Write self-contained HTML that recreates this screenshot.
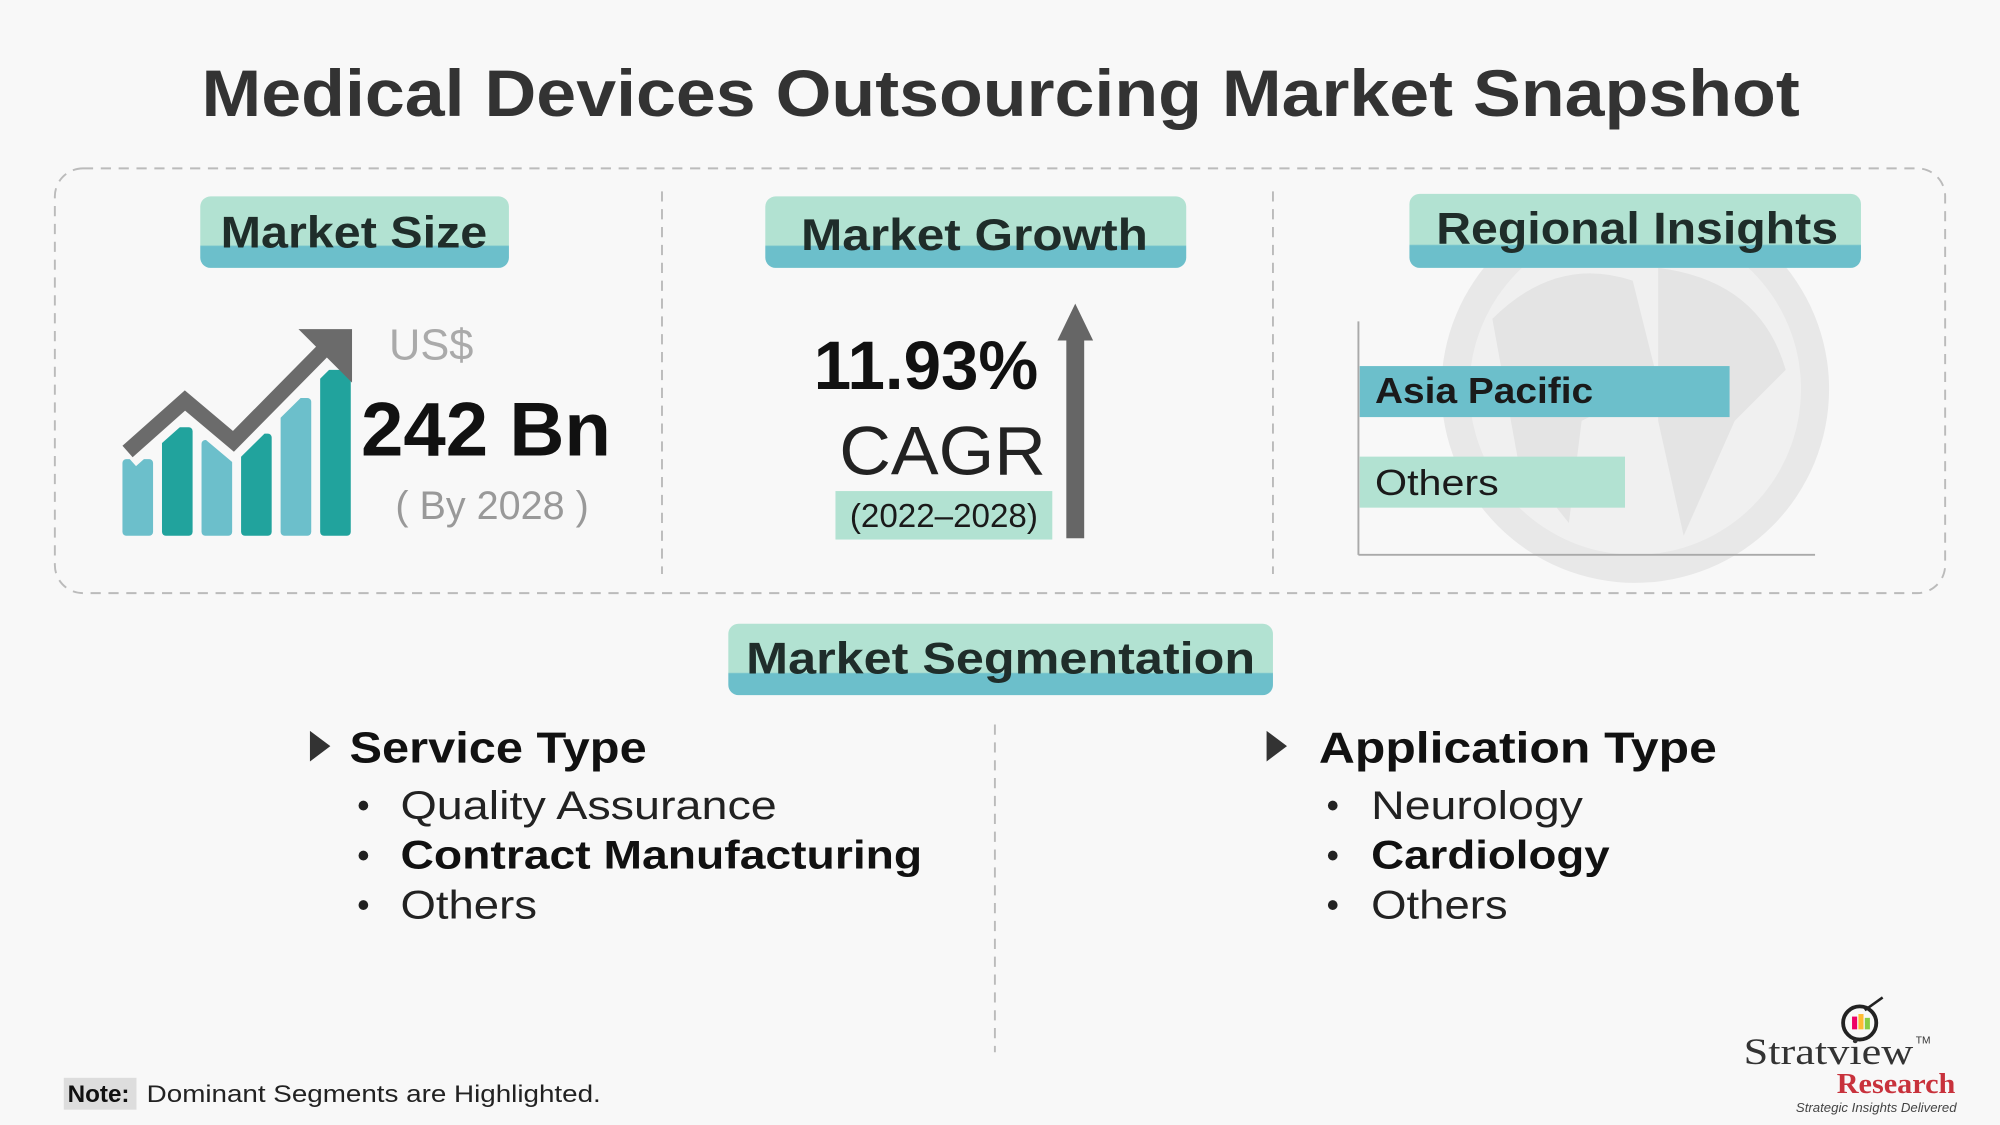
<!DOCTYPE html>
<html><head><meta charset="utf-8"><style>
html,body{margin:0;padding:0;background:#f8f8f8;}
svg{display:block;}
text{font-family:"Liberation Sans",sans-serif;}
</style></head><body>
<svg width="2000" height="1125" viewBox="0 0 1568 882" xmlns="http://www.w3.org/2000/svg">
<defs>
<linearGradient id="pill" x1="0" y1="0" x2="0" y2="1">
<stop offset="0" stop-color="#b2e2d2"/><stop offset="0.68" stop-color="#b2e2d2"/><stop offset="0.7" stop-color="#6cbfcb"/><stop offset="1" stop-color="#6cbfcb"/>
</linearGradient>
</defs>
<rect width="1568" height="882" fill="#f8f8f8"/>
<text x="158" y="91" textLength="1253" lengthAdjust="spacingAndGlyphs" font-size="52" font-weight="bold" fill="#333">Medical Devices Outsourcing Market Snapshot</text>
<rect x="43" y="132" width="1482" height="333" rx="22" fill="none" stroke="#bbb" stroke-width="1.5" stroke-dasharray="8 6"/>
<line x1="519" y1="150" x2="519" y2="450" stroke="#bbb" stroke-width="1.5" stroke-dasharray="8 6"/>
<line x1="998" y1="150" x2="998" y2="450" stroke="#bbb" stroke-width="1.5" stroke-dasharray="8 6"/>

<!-- globe -->
<circle cx="1282" cy="305" r="152" fill="#e8e8e8"/>
<circle cx="1282" cy="305" r="130" fill="#f0f0f0"/>
<path d="M1170 250 Q1220 200 1280 220 L1300 300 L1240 330 L1230 410 L1190 360 Z" fill="#e4e4e4"/>
<path d="M1300 210 Q1380 220 1400 290 L1360 330 L1320 420 L1300 330 Z" fill="#e4e4e4"/>

<!-- pills -->
<rect x="157" y="154" width="242" height="56" rx="8" fill="url(#pill)"/>
<text x="173" y="194" textLength="209" lengthAdjust="spacingAndGlyphs" font-size="35" font-weight="bold" fill="#1f2d2a">Market Size</text>
<rect x="600" y="154" width="330" height="56" rx="8" fill="url(#pill)"/>
<text x="628" y="196" textLength="272" lengthAdjust="spacingAndGlyphs" font-size="35" font-weight="bold" fill="#1f2d2a">Market Growth</text>
<rect x="1105" y="152" width="354" height="58" rx="8" fill="url(#pill)"/>
<text x="1126" y="191" textLength="315" lengthAdjust="spacingAndGlyphs" font-size="35" font-weight="bold" fill="#1f2d2a">Regional Insights</text>

<!-- chart icon -->
<g>
<rect x="96" y="360" width="24" height="60" rx="3" fill="#6cbfcb"/>
<rect x="127" y="335" width="24" height="85" rx="3" fill="#21a39d"/>
<rect x="158" y="345" width="24" height="75" rx="3" fill="#6cbfcb"/>
<rect x="189" y="340" width="24" height="80" rx="3" fill="#21a39d"/>
<rect x="220" y="312" width="24" height="108" rx="3" fill="#6cbfcb"/>
<rect x="251" y="290" width="24" height="130" rx="3" fill="#21a39d"/>
<polyline points="100,358 145,318 183,350 262,272" fill="none" stroke="#f8f8f8" stroke-width="20"/>
<polyline points="100,354 145,314 183,346 258,270" fill="none" stroke="#6b6b6b" stroke-width="12"/>
<polygon points="234,258 276,258 276,300" fill="#6b6b6b"/>
</g>
<text x="305" y="282" font-size="34" fill="#aaa">US$</text>
<text x="283" y="357" textLength="196" lengthAdjust="spacingAndGlyphs" font-size="60" font-weight="bold" fill="#111">242 Bn</text>
<text x="310" y="407" font-size="31" fill="#999">( By 2028 )</text>

<!-- growth -->
<text x="638" y="305" textLength="176" lengthAdjust="spacingAndGlyphs" font-size="54" font-weight="bold" fill="#111">11.93%</text>
<text x="658" y="372" textLength="162" lengthAdjust="spacingAndGlyphs" font-size="54" fill="#222">CAGR</text>
<rect x="655" y="385" width="170" height="38" fill="#b2e2d2"/>
<text x="740" y="413" text-anchor="middle" font-size="26" fill="#1a1a1a">(2022–2028)</text>
<rect x="836" y="262" width="14" height="160" fill="#666"/>
<polygon points="829,267 843,238 857,267" fill="#666"/>

<!-- regional bars -->
<line x1="1065" y1="252" x2="1065" y2="435" stroke="#aaa" stroke-width="1.5"/>
<line x1="1065" y1="435" x2="1423" y2="435" stroke="#aaa" stroke-width="1.5"/>
<rect x="1066" y="287" width="290" height="40" fill="#6cbfcb"/>
<text x="1078" y="316" textLength="171" lengthAdjust="spacingAndGlyphs" font-size="28" font-weight="bold" fill="#1a1a1a">Asia Pacific</text>
<rect x="1066" y="358" width="208" height="40" fill="#b2e2d2"/>
<text x="1078" y="388" textLength="97" lengthAdjust="spacingAndGlyphs" font-size="28" fill="#1a1a1a">Others</text>

<!-- segmentation -->
<rect x="571" y="489" width="427" height="56" rx="8" fill="url(#pill)"/>
<text x="585" y="528" textLength="399" lengthAdjust="spacingAndGlyphs" font-size="35" font-weight="bold" fill="#1f2d2a">Market Segmentation</text>
<line x1="780" y1="568" x2="780" y2="825" stroke="#bbb" stroke-width="1.5" stroke-dasharray="8 6"/>

<polygon points="243,573 259,585 243,597" fill="#333"/>
<text x="274" y="598" textLength="233" lengthAdjust="spacingAndGlyphs" font-size="34" font-weight="bold" fill="#111">Service Type</text>
<text x="280" y="641" font-size="28" fill="#222">•</text>
<text x="314" y="642" textLength="295" lengthAdjust="spacingAndGlyphs" font-size="31" fill="#222">Quality Assurance</text>
<text x="280" y="680" font-size="28" fill="#222">•</text>
<text x="314" y="681" textLength="409" lengthAdjust="spacingAndGlyphs" font-size="31" font-weight="bold" fill="#111">Contract Manufacturing</text>
<text x="280" y="719" font-size="28" fill="#222">•</text>
<text x="314" y="720" textLength="107" lengthAdjust="spacingAndGlyphs" font-size="31" fill="#222">Others</text>

<polygon points="993,573 1009,585 993,597" fill="#333"/>
<text x="1034" y="598" textLength="312" lengthAdjust="spacingAndGlyphs" font-size="34" font-weight="bold" fill="#111">Application Type</text>
<text x="1040" y="641" font-size="28" fill="#222">•</text>
<text x="1075" y="642" textLength="166" lengthAdjust="spacingAndGlyphs" font-size="31" fill="#222">Neurology</text>
<text x="1040" y="680" font-size="28" fill="#222">•</text>
<text x="1075" y="681" textLength="187" lengthAdjust="spacingAndGlyphs" font-size="31" font-weight="bold" fill="#111">Cardiology</text>
<text x="1040" y="719" font-size="28" fill="#222">•</text>
<text x="1075" y="720" textLength="107" lengthAdjust="spacingAndGlyphs" font-size="31" fill="#222">Others</text>

<!-- note -->
<rect x="50" y="845" width="57" height="25" fill="#ddd"/>
<text x="53" y="864" font-size="19" font-weight="bold" fill="#111">Note:</text>
<text x="115" y="864" textLength="356" lengthAdjust="spacingAndGlyphs" font-size="19" fill="#222">Dominant Segments are Highlighted.</text>

<!-- logo -->
<circle cx="1458" cy="802" r="13" fill="none" stroke="#222" stroke-width="3"/>
<rect x="1452" y="797" width="4" height="10" fill="#e06"/><rect x="1457" y="795" width="4" height="12" fill="#fb3"/><rect x="1462" y="798" width="4" height="9" fill="#8c4"/>
<line x1="1462" y1="792" x2="1476" y2="782" stroke="#222" stroke-width="2"/>
<text x="1367" y="834" textLength="133" lengthAdjust="spacingAndGlyphs" style="font-family:'Liberation Serif',serif" font-size="29" fill="#333">Stratview</text>
<text x="1502" y="818" font-size="8" fill="#333">TM</text>
<text x="1440" y="857" textLength="93" lengthAdjust="spacingAndGlyphs" style="font-family:'Liberation Serif',serif" font-size="22" font-weight="bold" fill="#c8323c">Research</text>
<text x="1408" y="872" textLength="126" lengthAdjust="spacingAndGlyphs" font-size="10" font-style="italic" fill="#444">Strategic Insights Delivered</text>
</svg>
</body></html>
